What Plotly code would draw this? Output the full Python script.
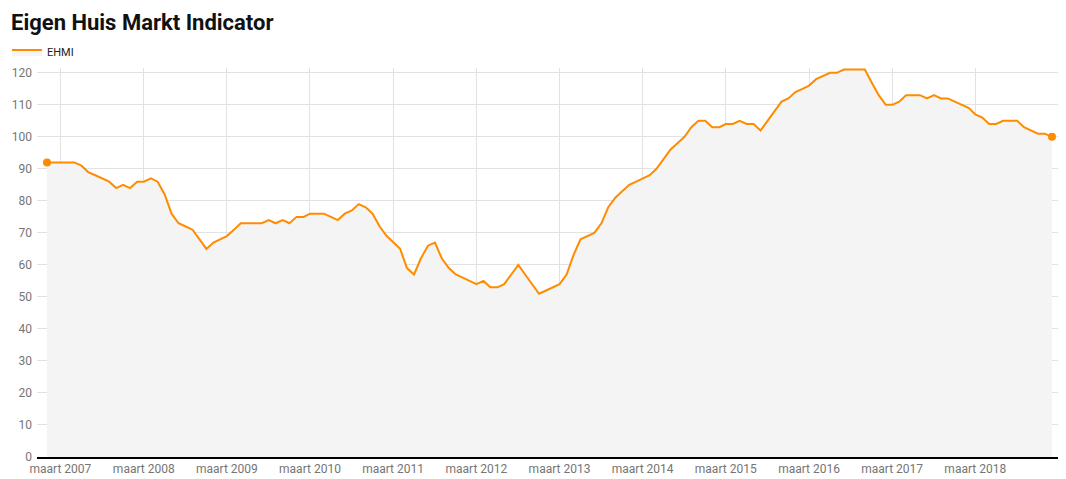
import pandas as pd
import plotly.graph_objects as go

# Monthly EHMI values, January 2007 - February 2019
months = pd.date_range("2007-01-01", "2019-02-01", freq="MS")
ehmi = [
    92, 92, 92, 92, 92, 91, 89, 88, 87, 86, 84, 85,   # 2007
    84, 86, 86, 87, 86, 82, 76, 73, 72, 71, 68, 65,   # 2008
    67, 68, 69, 71, 73, 73, 73, 73, 74, 73, 74, 73,   # 2009
    75, 75, 76, 76, 76, 75, 74, 76, 77, 79, 78, 76,   # 2010
    72, 69, 67, 65, 59, 57, 62, 66, 67, 62, 59, 57,   # 2011
    56, 55, 54, 55, 53, 53, 54, 57, 60, 57, 54, 51,   # 2012
    52, 53, 54, 57, 63, 68, 69, 70, 73, 78, 81, 83,   # 2013
    85, 86, 87, 88, 90, 93, 96, 98, 100, 103, 105, 105,  # 2014
    103, 103, 104, 104, 105, 104, 104, 102, 105, 108, 111, 112,  # 2015
    114, 115, 116, 118, 119, 120, 120, 121, 121, 121, 121, 117,  # 2016
    113, 110, 110, 111, 113, 113, 113, 112, 113, 112, 112, 111,  # 2017
    110, 109, 107, 106, 104, 104, 105, 105, 105, 103, 102, 101,  # 2018
    101, 100,  # 2019
]

tick_dates = pd.date_range("2007-03-01", "2018-03-01", freq="12MS")
tick_labels = [f"maart {d.year}" for d in tick_dates]
y_ticks = list(range(0, 121, 10))

orange = "#FF8C00"
fig = go.Figure()
fig.add_trace(go.Scatter(
    x=months, y=ehmi, mode="lines", name="EHMI",
    line=dict(color=orange, width=2),
    fill="tozeroy", fillcolor="#f4f4f4",
    hoverinfo="x+y",
))
fig.add_trace(go.Scatter(
    x=[months[0], months[-1]], y=[ehmi[0], ehmi[-1]], mode="markers",
    marker=dict(color=orange, size=8), showlegend=False, hoverinfo="skip",
    cliponaxis=False,
))

# The page body adds an 8 px offset; the figure is sized to compensate.
OFF = 8
W, H = 1066 - OFF, 479 - OFF
ml, mr, mt, mb = 37 - OFF, 8, 68 - OFF, 22
plot_w = W - ml - mr
plot_h = H - mt - mb

# x range padding: ~10 px on the left, ~6 px on the right
px_per_day = (1052 - 47) / (months[-1] - months[0]).days
x0 = months[0] - pd.Timedelta(days=10 / px_per_day)
x1 = months[-1] + pd.Timedelta(days=6 / px_per_day)

fig.update_layout(
    width=W, height=H,
    margin=dict(l=ml, r=mr, t=mt, b=mb, autoexpand=False),
    paper_bgcolor="white", plot_bgcolor="white",
    font=dict(family="Roboto, sans-serif", size=12, color="#757575"),
    title=dict(
        text="<b>Eigen Huis Markt Indicator</b>",
        font=dict(family="Roboto, sans-serif", size=22, color="#111111"),
        x=(11 - OFF) / W, xanchor="left", xref="container",
        y=1 - (22 - OFF) / H, yanchor="middle", yref="container",
        pad=dict(l=0, r=0, t=0, b=0),
    ),
    showlegend=True,
    legend=dict(
        orientation="h", x=-30 / plot_w, xanchor="left",
        y=1 + 16 / plot_h, yanchor="middle",
        font=dict(family="Roboto, sans-serif", size=11, color="#222222"),
        bgcolor="rgba(0,0,0,0)", itemwidth=30,
    ),
    xaxis=dict(
        type="date", range=[x0, x1],
        tickvals=list(tick_dates), ticktext=tick_labels,
        showgrid=True, gridcolor="#e2e2e2", gridwidth=1,
        showline=True, linecolor="#000000", linewidth=1.5,
        ticks="", tickfont=dict(size=12, color="#757575"),
        zeroline=False, fixedrange=True, automargin=False,
    ),
    yaxis=dict(
        range=[0, 121.5], tickvals=y_ticks,
        showgrid=True, gridcolor="#e2e2e2", gridwidth=1,
        zeroline=False, ticks="", ticklabelstandoff=4,
        tickfont=dict(size=12, color="#757575"), fixedrange=True,
        automargin=False,
    ),
)

fig.write_html("out.html")
